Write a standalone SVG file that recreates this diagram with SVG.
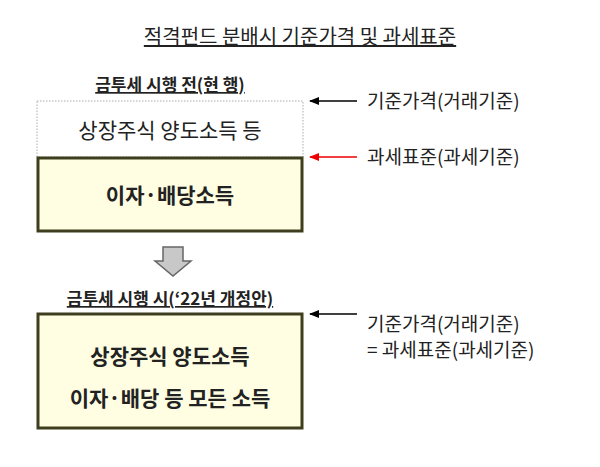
<svg xmlns="http://www.w3.org/2000/svg" width="600" height="467" viewBox="0 0 600 467">
<style>
text{font-family:"Noto Sans CJK KR","Noto Sans",sans-serif;fill:#222}
.t{font-size:19px}
.b{font-weight:bold}
.box{fill:#fffee2;stroke:#3e3e1e;stroke-width:3}
</style>
<defs>
<marker id="ak" markerWidth="10" markerHeight="8" refX="9" refY="4" orient="auto" markerUnits="userSpaceOnUse"><path d="M0,0 L10,4 L0,8 Z" fill="#000"/></marker>
<marker id="ar" markerWidth="10" markerHeight="8" refX="9" refY="4" orient="auto" markerUnits="userSpaceOnUse"><path d="M0,0 L10,4 L0,8 Z" fill="#e00"/></marker>
</defs>
<rect width="600" height="467" fill="#fff"/>
<text x="300" y="44" text-anchor="middle" font-size="20" text-decoration="underline">적격펀드 분배시 기준가격 및 과세표준</text>
<g id="before">
<text x="170" y="91" text-anchor="middle" font-size="17" class="b" text-decoration="underline">금투세 시행 전(현 행)</text>
<rect x="37" y="101" width="266" height="56" fill="none" stroke="#aaa" stroke-dasharray="1.5,1.5"/>
<text x="170" y="138" text-anchor="middle" font-size="21">상장주식 양도소득 등</text>
<rect class="box" x="38" y="158" width="264" height="73"/>
<text x="170" y="203" text-anchor="middle" font-size="21" class="b">이자·배당소득</text>
</g>
<g id="arrow-down"><path d="M163,247 H183 V261 H191 L173,276 L155,261 H163 Z" fill="#c8c8c8" stroke="#666" stroke-width="1.5"/></g>
<g id="after">
<text x="170" y="305" text-anchor="middle" font-size="17" class="b" text-decoration="underline">금투세 시행 시(‘22년 개정안)</text>
<rect class="box" x="38" y="314" width="264" height="114"/>
<text x="170" y="364" text-anchor="middle" font-size="21" class="b">상장주식 양도소득</text>
<text x="170" y="406" text-anchor="middle" font-size="21" class="b">이자·배당 등 모든 소득</text>
</g>
<g id="connectors" stroke-width="1.5">
<line x1="357" y1="101" x2="310" y2="101" stroke="#000" marker-end="url(#ak)"/>
<line x1="357" y1="157" x2="310" y2="157" stroke="#e00" marker-end="url(#ar)"/>
<line x1="357" y1="314" x2="310" y2="314" stroke="#000" marker-end="url(#ak)"/>
</g>
<g id="labels">
<text x="367" y="108" class="t">기준가격(거래기준)</text>
<text x="367" y="164" class="t">과세표준(과세기준)</text>
<text x="367" y="331" class="t">기준가격(거래기준)</text>
<text x="367" y="357" class="t">= 과세표준(과세기준)</text>
</g>
</svg>
